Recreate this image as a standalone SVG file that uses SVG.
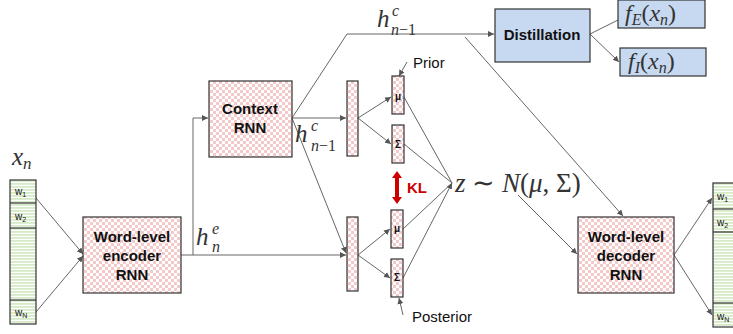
<svg xmlns="http://www.w3.org/2000/svg" width="733" height="334" viewBox="0 0 733 334">
<defs>
<pattern id="chk" patternUnits="userSpaceOnUse" width="6" height="6">
<rect width="6" height="6" fill="#ffffff"/>
<rect width="3" height="3" fill="#f4c9c9"/>
<rect x="3" y="3" width="3" height="3" fill="#f4c9c9"/>
</pattern>
<pattern id="grn" patternUnits="userSpaceOnUse" width="4" height="3">
<rect width="4" height="3" fill="#ffffff"/>
<rect width="4" height="1.8" fill="#d6eac8"/>
</pattern>
<marker id="ar" viewBox="0 0 10 10" refX="10" refY="5" markerWidth="6" markerHeight="6" orient="auto" markerUnits="userSpaceOnUse">
<path d="M0,0 L10,5 L0,10 z" fill="#555"/>
</marker>
<style>
.b{stroke:#333;stroke-width:1.2}
.k{fill:url(#chk)}
.g{fill:url(#grn)}
.lbl{font-family:"Liberation Sans",Arial,sans-serif;font-weight:bold;font-size:15px;fill:#111;text-anchor:middle}
.sm{font-family:"Liberation Sans",Arial,sans-serif;font-size:10px;fill:#111}
.tx{font-family:"Liberation Sans",Arial,sans-serif;font-size:15px;fill:#111}
.m{font-family:"Liberation Serif","Times New Roman",serif;fill:#333}
.i{font-style:italic}
.c{fill:none;stroke:#666;stroke-width:1}
</style>
</defs>

<g id="connectors">
<path class="c" d="M36,198 L83,254" marker-end="url(#ar)"/>
<path class="c" d="M36,312 L83,256" marker-end="url(#ar)"/>
<path class="c" d="M181,255 L346,255" marker-end="url(#ar)"/>
<path class="c" d="M193,255 L193,118 L208,118" marker-end="url(#ar)"/>
<path class="c" d="M292,118 L346,118" marker-end="url(#ar)"/>
<path class="c" d="M292,118 L347,34 L494,34" marker-end="url(#ar)"/>
<path class="c" d="M292,118 L346,253" marker-end="url(#ar)"/>
<path class="c" d="M465,37 L623,216" marker-end="url(#ar)"/>
<path class="c" d="M358,118 L391,97" marker-end="url(#ar)"/>
<path class="c" d="M358,118 L391,144" marker-end="url(#ar)"/>
<path class="c" d="M358,255 L390,229" marker-end="url(#ar)"/>
<path class="c" d="M358,255 L390,278" marker-end="url(#ar)"/>
<path class="c" d="M404,97 L452,183"/>
<path class="c" d="M404,144 L452,183"/>
<path class="c" d="M403,229 L452,183"/>
<path class="c" d="M403,278 L452,183" marker-end="url(#ar)"/>
<path class="c" d="M518,195 L577,254" marker-end="url(#ar)"/>
<path class="c" d="M590,34 L618,20"/>
<path class="c" d="M590,34 L619,62" marker-end="url(#ar)"/>
<path class="c" d="M674,255 L712,198" marker-end="url(#ar)"/>
<path class="c" d="M674,255 L712,315" marker-end="url(#ar)"/>
<path class="c" d="M407,62 L399,76" marker-end="url(#ar)"/>
<path class="c" d="M403,315 L399,298" marker-end="url(#ar)"/>
</g>

<g id="input">
<rect class="b g" x="10" y="180" width="26" height="144"/>
<line class="b" x1="10" y1="203" x2="36" y2="203"/>
<line class="b" x1="10" y1="228" x2="36" y2="228"/>
<line class="b" x1="10" y1="300" x2="36" y2="300"/>
<text class="sm" x="15" y="195">w<tspan font-size="7" dy="2">1</tspan></text>
<text class="sm" x="15" y="220">w<tspan font-size="7" dy="2">2</tspan></text>
<text class="sm" x="15" y="316">w<tspan font-size="7" dy="2">N</tspan></text>
<text class="m i" x="12" y="165" font-size="25">x<tspan font-size="17" dy="4">n</tspan></text>
</g>

<g id="encoder">
<rect class="b k" x="83" y="217" width="98" height="76"/>
<text class="lbl" x="132" y="242">Word-level</text>
<text class="lbl" x="132" y="261">encoder</text>
<text class="lbl" x="132" y="280">RNN</text>
</g>

<g id="he-label">
<text class="m i" x="196" y="245" font-size="25">h</text>
<text class="m i" x="212" y="234" font-size="16">e</text>
<text class="m i" x="212" y="252" font-size="16">n</text>
</g>

<g id="hc-label">
<text class="m i" x="295" y="142" font-size="25">h</text>
<text class="m i" x="311" y="131" font-size="16">c</text>
<text class="m" x="311" y="151" font-size="16"><tspan font-style="italic">n</tspan>−1</text>
</g>

<g id="context">
<rect class="b k" x="209" y="81" width="83" height="76"/>
<text class="lbl" x="250" y="114">Context</text>
<text class="lbl" x="250" y="133">RNN</text>
</g>

<g id="hc-top-label">
<text class="m i" x="377" y="27" font-size="25">h</text>
<text class="m i" x="392" y="16" font-size="16">c</text>
<text class="m" x="391" y="35" font-size="16"><tspan font-style="italic">n</tspan>−1</text>
</g>

<g id="prior-bar"><rect class="b k" x="347" y="81" width="11" height="75"/></g>
<g id="posterior-bar"><rect class="b k" x="347" y="217" width="11" height="74"/></g>

<g id="prior-mu">
<rect class="b k" x="392" y="76" width="12" height="38"/>
<text class="sm" x="398" y="100" text-anchor="middle" font-weight="bold">μ</text>
</g>
<g id="prior-sigma">
<rect class="b k" x="392" y="125" width="12" height="38"/>
<text class="sm" x="398" y="148" text-anchor="middle" font-weight="bold">Σ</text>
</g>
<g id="post-mu">
<rect class="b k" x="391" y="210" width="12" height="38"/>
<text class="sm" x="397" y="232" text-anchor="middle" font-weight="bold">μ</text>
</g>
<g id="post-sigma">
<rect class="b k" x="391" y="259" width="12" height="38"/>
<text class="sm" x="397" y="281" text-anchor="middle" font-weight="bold">Σ</text>
</g>

<g id="prior-label"><text class="tx" x="413" y="68">Prior</text></g>
<g id="posterior-label"><text class="tx" x="412" y="322">Posterior</text></g>

<g id="kl">
<path d="M397,171 L402,178 L399,178 L399,197 L402,197 L397,204 L392,197 L395,197 L395,178 L392,178 z" fill="#cc0000"/>
<text x="407" y="193" font-family="Liberation Sans,Arial,sans-serif" font-weight="bold" font-size="15" fill="#cc0000">KL</text>
</g>

<g id="z-label">
<text class="m" x="455" y="192" font-size="27"><tspan font-style="italic">z</tspan> ∼ <tspan font-style="italic">N</tspan>(<tspan font-style="italic">μ</tspan>, Σ)</text>
</g>

<g id="distillation">
<rect x="495" y="9" width="95" height="53" fill="#c6d9f1" class="b"/>
<text class="lbl" x="542" y="40">Distillation</text>
</g>

<g id="fE">
<rect x="618" y="0" width="87" height="28" fill="#c6d9f1" class="b"/>
<text class="m" x="625" y="21" font-size="24"><tspan font-style="italic">f</tspan><tspan font-style="italic" font-size="16" dy="4">E</tspan><tspan dy="-4">(</tspan><tspan font-style="italic">x</tspan><tspan font-style="italic" font-size="16" dy="4">n</tspan><tspan dy="-4">)</tspan></text>
</g>

<g id="fI">
<rect x="620" y="48" width="86" height="28" fill="#c6d9f1" class="b"/>
<text class="m" x="628" y="69" font-size="24"><tspan font-style="italic">f</tspan><tspan font-style="italic" font-size="16" dy="4">I</tspan><tspan dy="-4">(</tspan><tspan font-style="italic">x</tspan><tspan font-style="italic" font-size="16" dy="4">n</tspan><tspan dy="-4">)</tspan></text>
</g>

<g id="decoder">
<rect class="b k" x="578" y="217" width="96" height="76"/>
<text class="lbl" x="626" y="242">Word-level</text>
<text class="lbl" x="626" y="261">decoder</text>
<text class="lbl" x="626" y="280">RNN</text>
</g>

<g id="output">
<rect class="b g" x="713" y="183" width="26" height="144"/>
<line class="b" x1="713" y1="209" x2="739" y2="209"/>
<line class="b" x1="713" y1="232" x2="739" y2="232"/>
<line class="b" x1="713" y1="303" x2="739" y2="303"/>
<text class="sm" x="717" y="200">w<tspan font-size="7" dy="2">1</tspan></text>
<text class="sm" x="717" y="226">w<tspan font-size="7" dy="2">2</tspan></text>
<text class="sm" x="717" y="320">w<tspan font-size="7" dy="2">N</tspan></text>
</g>
</svg>
